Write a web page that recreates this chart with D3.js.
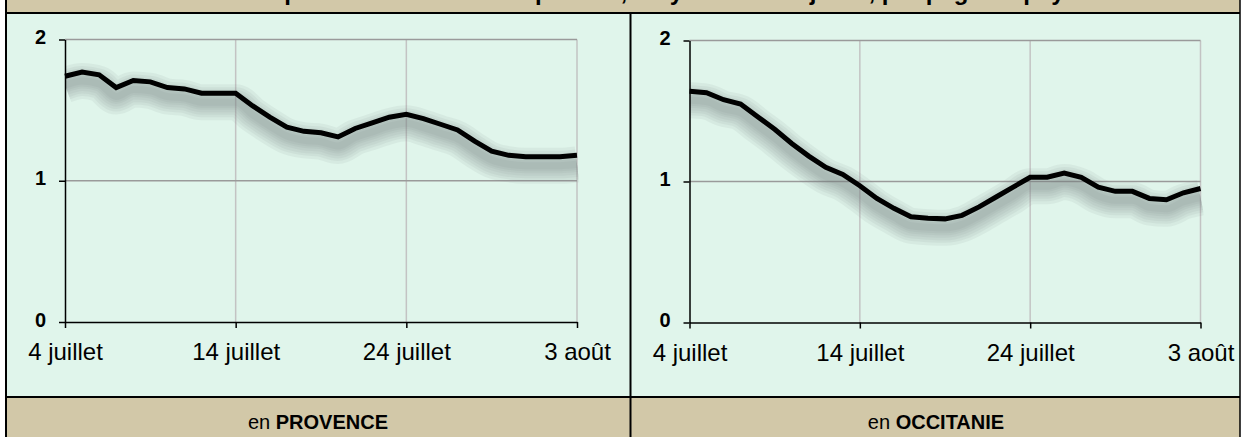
<!DOCTYPE html>
<html><head><meta charset="utf-8">
<script src="https://cdn.jsdelivr.net/npm/d3@7/dist/d3.min.js"></script>
<style>html,body{margin:0;padding:0;background:#fff;overflow:hidden}</style>
</head><body>
<svg id="chart" width="1244" height="437"></svg>
<script>
const titleText = "Taux de reproduction R des cas positifs, moyenne sur 7 jours, par page de pays";
const regionNames = ["PROVENCE", "OCCITANIE"];
const dayIndex = d3.range(31); // 4 juillet .. 3 août
const tickDays = [0, 10, 20, 30];
const tickLabels = ["4 juillet", "14 juillet", "24 juillet", "3 août"];
const yTicks = [0, 1, 2];
const provence = [1.74, 1.77, 1.75, 1.66, 1.71, 1.70, 1.66, 1.65, 1.62, 1.62, 1.62,
  1.53, 1.45, 1.38, 1.35, 1.34, 1.31, 1.37, 1.41, 1.45, 1.47, 1.44, 1.40, 1.36,
  1.28, 1.21, 1.18, 1.17, 1.17, 1.17, 1.18];
const occitanie = [1.64, 1.63, 1.58, 1.55, 1.46, 1.37, 1.27, 1.18, 1.10, 1.05, 0.97,
  0.88, 0.81, 0.75, 0.74, 0.735, 0.76, 0.82, 0.89, 0.96, 1.03, 1.03, 1.06, 1.03,
  0.96, 0.93, 0.93, 0.88, 0.87, 0.92, 0.95];

const beige = "#d2c8a8", mint = "#e0f5eb";
const font = "Liberation Sans, Arial, sans-serif";
const svg = d3.select("#chart");
const defs = svg.append("defs");

// backgrounds
svg.append("rect").attr("x",0).attr("y",0).attr("width",1244).attr("height",437).attr("fill","#fff");
svg.append("rect").attr("x",5).attr("y",0).attr("width",1235).attr("height",13).attr("fill",beige);
svg.append("rect").attr("x",5).attr("y",13).attr("width",1235).attr("height",384).attr("fill",mint);
svg.append("rect").attr("x",5).attr("y",397).attr("width",1235).attr("height",40).attr("fill",beige);

svg.append("text").attr("x",622).attr("y",-0.5).attr("text-anchor","middle")
  .attr("font-family",font).attr("font-weight","bold")
  .attr("font-size",24).attr("fill","#000").text(titleText);

// borders
const bc = "#000";
svg.append("line").attr("x1",5).attr("x2",1240).attr("y1",13).attr("y2",13).attr("stroke",bc).attr("stroke-width",2);
svg.append("line").attr("x1",5).attr("x2",1240).attr("y1",397).attr("y2",397).attr("stroke",bc).attr("stroke-width",2);
svg.append("line").attr("x1",6).attr("x2",6).attr("y1",0).attr("y2",437).attr("stroke",bc).attr("stroke-width",2);
svg.append("line").attr("x1",630.5).attr("x2",630.5).attr("y1",13).attr("y2",437).attr("stroke",bc).attr("stroke-width",2);
svg.append("line").attr("x1",1240).attr("x2",1240).attr("y1",0).attr("y2",437).attr("stroke",bc).attr("stroke-width",1.5);

const panels = [
  {name: regionNames[0], data: provence, x0: 65, x1: 577, yTop: 39.5, yBot: 322, cx: 318},
  {name: regionNames[1], data: occitanie, x0: 689.5, x1: 1200.5, yTop: 40.5, yBot: 322.5, cx: 936}
];
const shadowWidths = [36, 30, 25, 20, 15, 11, 7];

panels.forEach((p, k) => {
  const x = d3.scaleLinear().domain([0,30]).range([p.x0, p.x1]);
  const y = d3.scaleLinear().domain([0,2]).range([p.yBot, p.yTop]);
  defs.append("clipPath").attr("id","clip"+k).append("rect")
    .attr("x",x(0)).attr("y",y(2)).attr("width",x(30)-x(0)+3).attr("height",y(0)-y(2));
  const g = svg.append("g");
  // vertical grid
  g.selectAll(".vg").data(tickDays.slice(1)).join("line")
    .attr("x1",d=>x(d)).attr("x2",d=>x(d)).attr("y1",y(2)).attr("y2",y(0))
    .attr("stroke","#c3c3c3").attr("stroke-width",1.5);
  // horizontal grid
  g.selectAll(".hg").data([1,2]).join("line")
    .attr("x1",x(0)).attr("x2",x(30)).attr("y1",d=>y(d)).attr("y2",d=>y(d))
    .attr("stroke","#9a9a9a").attr("stroke-width",1.5);
  const line = d3.line().x((d,i)=>x(dayIndex[i])).y(d=>y(d)).curve(d3.curveMonotoneX);
  const lineStraight = d3.line().x((d,i)=>x(dayIndex[i])).y(d=>y(d));
  // soft shadow (stacked translucent strokes), clipped to the plot area
  const sg = g.append("g").attr("clip-path",`url(#clip${k})`)
    .append("g").attr("transform","translate(0,9)");
  shadowWidths.forEach(w => {
    sg.append("path").datum(p.data).attr("d", line)
      .attr("fill","none").attr("stroke","#74807b").attr("stroke-width",w)
      .attr("stroke-linejoin","round").attr("stroke-linecap","butt").attr("stroke-opacity",0.085);
  });
  // line
  g.append("path").datum(p.data).attr("d", lineStraight)
    .attr("fill","none").attr("stroke","#000").attr("stroke-width",5);
  // axes
  const xAxis = d3.axisBottom(x).tickValues(tickDays).tickFormat((d,i)=>tickLabels[i]).tickSize(6).tickSizeOuter(0);
  const gx = g.append("g").attr("transform",`translate(0,${y(0)})`).call(xAxis);
  gx.select(".domain").attr("stroke","#000").attr("stroke-width",1.5);
  gx.selectAll(".tick line").attr("stroke","#000").attr("stroke-width",1.5);
  gx.selectAll("text").attr("font-family",font).attr("font-size",24).attr("fill","#000")
    .attr("y",38).attr("dy",0);
  const yAxis = d3.axisLeft(y).tickValues(yTicks).tickFormat(d3.format("d")).tickSize(6).tickSizeOuter(0);
  const gy = g.append("g").attr("transform",`translate(${x(0)},0)`).call(yAxis);
  gy.select(".domain").attr("stroke","#000").attr("stroke-width",1.5);
  gy.selectAll(".tick line").attr("stroke","#000").attr("stroke-width",1.5);
  gy.selectAll("text").attr("font-family",font).attr("font-size",20)
    .attr("font-weight","bold").attr("fill","#000").attr("x",-19).attr("dy","0.2em");
  // bottom label
  const t = svg.append("text").attr("x",p.cx).attr("y",429).attr("text-anchor","middle")
    .attr("font-family",font).attr("font-size",20).attr("fill","#000");
  t.append("tspan").text("en ");
  t.append("tspan").attr("font-weight","bold").text(p.name);
});
</script>
</body></html>
